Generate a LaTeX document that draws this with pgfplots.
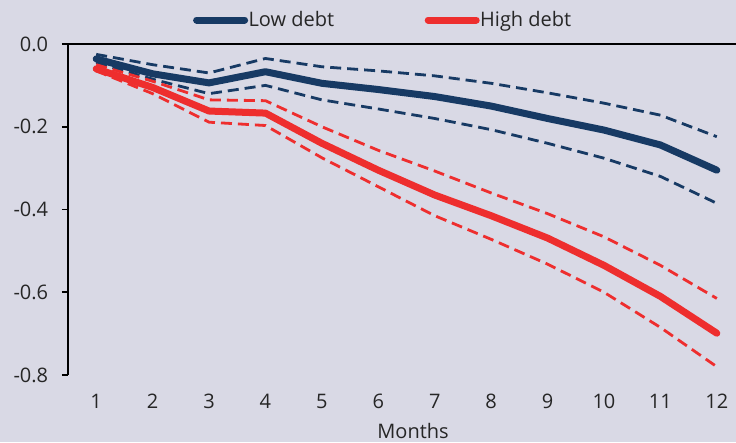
\documentclass[border=0pt]{standalone}
\usepackage{fontspec}
\setmainfont{Open Sans}
\usepackage{pgfplots}
\pgfplotsset{compat=1.18}
\definecolor{bg}{RGB}{217,217,229}
\definecolor{navy}{RGB}{23,58,100}
\definecolor{myred}{RGB}{238,46,46}
\begin{document}
\fontsize{20}{24}\selectfont
\begin{tikzpicture}
\fill[bg] (-68pt,-67pt) rectangle (668pt,375pt);
\begin{axis}[
  at={(0pt,0pt)}, anchor=south west,
  scale only axis, width=668pt, height=331pt,
  xmin=0.5, xmax=12.34, ymin=-0.8, ymax=0,
  clip=false,
  axis x line*=bottom, axis y line*=left,
  x axis line style={draw=none},
  y axis line style={line width=1.6pt, black},
  xtick={1,2,3,4,5,6,7,8,9,10,11,12},
  ytick={-0.8,-0.6,-0.4,-0.2,0},
  tick align=outside, major tick length=6pt,
  xtick style={draw=none},
  ytick style={line width=1.6pt, black},
  /pgf/number format/assume math mode=true,
  yticklabel style={/pgf/number format/.cd, fixed, fixed zerofill, precision=1, /tikz/.cd, xshift=-7pt, text=black!85},
  xticklabel style={yshift=-6pt, text=black!85},
  xlabel={Months},
  xlabel style={at={(axis cs:6.616,-0.8)}, anchor=base, yshift=-63.5pt, text=black!85},
  legend columns=2,
  legend cell align=left,
  legend style={at={(axis description cs:0.187,1)}, anchor=west, yshift=24pt,
    draw=none, fill=none, inner sep=0pt, nodes={inner sep=0.5pt, text=black!85},
    /tikz/every even column/.append style={column sep=90pt}},
  legend image code/.code={\draw[#1, line cap=round] (3.5pt,0pt) -- (51.5pt,0pt);},
]
% Low debt bands
\addplot[navy, line width=2.8pt, dash pattern=on 11pt off 6pt, forget plot] coordinates {
(1,-0.025) (2,-0.05) (3,-0.07) (4,-0.035) (5,-0.055) (6,-0.065) (7,-0.077) (8,-0.095) (9,-0.118) (10,-0.143) (11,-0.172) (12,-0.224)};
\addplot[navy, line width=2.8pt, dash pattern=on 11pt off 6pt, forget plot] coordinates {
(1,-0.045) (2,-0.085) (3,-0.12) (4,-0.1) (5,-0.135) (6,-0.157) (7,-0.18) (8,-0.207) (9,-0.24) (10,-0.276) (11,-0.32) (12,-0.385)};
% High debt bands
\addplot[myred, line width=2.8pt, dash pattern=on 11pt off 6pt, forget plot] coordinates {
(1,-0.05) (2,-0.09) (3,-0.135) (4,-0.137) (5,-0.2) (6,-0.257) (7,-0.307) (8,-0.36) (9,-0.41) (10,-0.466) (11,-0.535) (12,-0.615)};
\addplot[myred, line width=2.8pt, dash pattern=on 11pt off 6pt, forget plot] coordinates {
(1,-0.065) (2,-0.12) (3,-0.189) (4,-0.197) (5,-0.275) (6,-0.345) (7,-0.415) (8,-0.472) (9,-0.532) (10,-0.6) (11,-0.685) (12,-0.78)};
% Central lines
\addplot[navy, line width=7pt, line cap=round, line join=round] coordinates {
(1,-0.036) (2,-0.072) (3,-0.094) (4,-0.067) (5,-0.095) (6,-0.11) (7,-0.127) (8,-0.15) (9,-0.18) (10,-0.208) (11,-0.244) (12,-0.305)};
\addlegendentry{Low debt}
\addplot[myred, line width=7pt, line cap=round, line join=round] coordinates {
(1,-0.06) (2,-0.105) (3,-0.162) (4,-0.167) (5,-0.24) (6,-0.305) (7,-0.365) (8,-0.415) (9,-0.469) (10,-0.535) (11,-0.61) (12,-0.699)};
\addlegendentry{High debt}
\draw[line width=1.6pt, black] (axis cs:0.5,0) -- (axis cs:12.34,0);
\end{axis}
\pgfresetboundingbox
\useasboundingbox (-68pt,-67pt) rectangle (668pt,375pt);
\end{tikzpicture}
\end{document}
